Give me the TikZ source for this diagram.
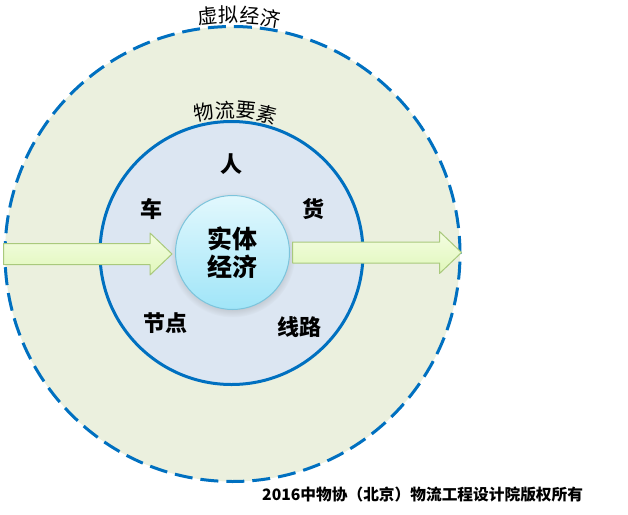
\documentclass[tikz,border=0pt]{standalone}
\usepackage{fontspec}
\setmainfont{Liberation Sans}
\newfontfamily\hei{Noto Sans CJK SC}
\usepackage{xcolor}
\usepackage{tikz}
\usetikzlibrary{arrows.meta,shadows,calc}
\definecolor{ringblue}{HTML}{0070C0}
\definecolor{virtfill}{HTML}{EBF0DE}
\definecolor{logifill}{HTML}{DCE6F2}
\definecolor{coretop}{HTML}{E2F8FD}
\definecolor{corebot}{HTML}{A0E5F8}
\definecolor{coreline}{HTML}{7CC4DC}
\definecolor{flowtop}{HTML}{F4FDE2}
\definecolor{flowbot}{HTML}{E0F7BA}
\definecolor{flowline}{HTML}{A9C97C}
% flat arrow from one anchor to another
\newcommand\flowarrow[2]{\draw[flow] let \p1=(#1),\p2=(#2) in
 (\x1,\y1+10.5pt)--(\x2-22pt,\y1+10.5pt)--(\x2-22pt,\y1+21pt)--(\x2,\y1)
 --(\x2-22pt,\y1-21pt)--(\x2-22pt,\y1-10.5pt)--(\x1,\y1-10.5pt)--cycle;}

\begin{document}
\begin{tikzpicture}[x=1pt,y=-1pt,
ring/.style={circle,draw=ringblue,line width=3pt,inner sep=0pt},
word/.style={font=\hei\bfseries\fontsize{22}{26}\selectfont,inner sep=0pt},
arcword/.style={font=\hei\fontsize{20}{24}\selectfont,inner sep=0pt},
flow/.style={draw=flowline,line width=1pt,line join=round,top color=flowtop,bottom color=flowbot}]
\useasboundingbox (0,0) rectangle (628,514);
\node[ring,dash pattern=on 18pt off 8pt,fill=virtfill,minimum size=455pt](virt) at (232.5,254){};
\node[ring,fill=logifill,minimum size=263pt](logi) at (231.5,253){};
\node[circle,draw=coreline,line width=1pt,top color=coretop,bottom color=corebot,
 minimum size=114pt,inner sep=0pt,align=center,
 font=\hei\bfseries\fontsize{25}{28}\selectfont,
 circular drop shadow={shadow xshift=0pt,shadow yshift=-2pt,opacity=0.3}](core) at (232.5,252.5){实体\\经济};
\flowarrow{virt.west}{$(core.west)+(-3,0)$}
\flowarrow{$(core.east)+(2.5,0)$}{virt.east}
% words on the rings
\foreach \ch/\a [count=\i] in {虚/95.95,拟/90.9,经/85.9,济/80.9}
 \node[arcword,rotate=\a-90](virt\i) at ($(virt.center)+(\a:239pt)$){\ch};
\foreach \ch/\a [count=\i] in {物/101,流/92.6,要/84.2,素/75.8}
 \node[arcword,rotate=\a-90](logi\i) at ($(logi.center)+(\a:143pt)$){\ch};
\node[word](ren) at (231,164){人};
\node[word](che) at (151,209){车};
\node[word](huo) at (313,209){货};
\node[word](jiedian) at (165,323){节点};
\node[word](xianlu) at (299,327){线路};
\node[anchor=west,inner sep=0pt,font=\hei\bfseries\fontsize{15.7}{18}\selectfont](rights) at (262,495){2016中物协（北京）物流工程设计院版权所有};
\end{tikzpicture}
\end{document}
